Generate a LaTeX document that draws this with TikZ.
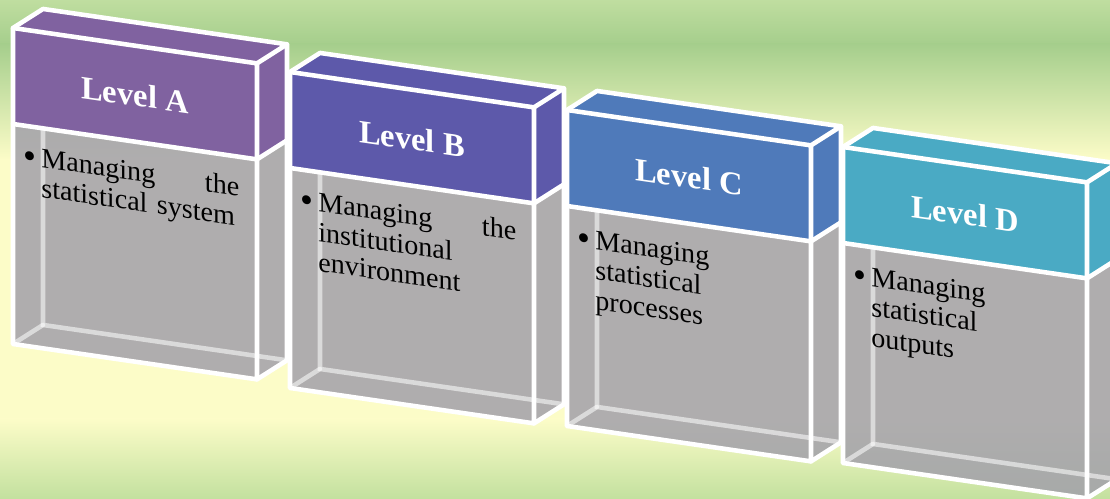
\documentclass[tikz,border=0pt]{standalone}
\usepackage{fontspec}
\setmainfont{Liberation Serif}

\definecolor{lvlA}{RGB}{128,98,160}
\definecolor{lvlB}{RGB}{93,89,170}
\definecolor{lvlC}{RGB}{79,122,186}
\definecolor{lvlD}{RGB}{74,170,196}
\definecolor{glassgrey}{RGB}{162,160,170}
\definecolor{bgTop}{RGB}{192,222,160}
\definecolor{bgGreen}{RGB}{165,206,140}
\definecolor{bgPale}{RGB}{252,252,200}
\definecolor{bgLow}{RGB}{194,224,158}

\begin{document}
\begin{tikzpicture}[
    x=0.02cm, y=-0.02cm,
    rim/.style={draw=white, line width=2.6pt, line join=round, line cap=round},
    backrim/.style={draw=white, draw opacity=0.55, line width=2.6pt, line cap=round},
    glass/.style={fill=glassgrey, fill opacity=0.85},
    lvltitle/.style={text=white, inner sep=0pt, transform shape,
        font=\fontsize{18.5}{20}\selectfont\bfseries},
    lvltext/.style={anchor=north west, inner sep=0pt, transform shape,
        text width=3.96cm, align=left, font=\fontsize{16}{17}\selectfont},
    dot/.style={anchor=base west, inner sep=0pt, transform shape,
        font=\fontsize{21}{21}\selectfont}
]
    \useasboundingbox (0,0) rectangle (1110,499);
    \clip (0,0) rectangle (1110,499);

    % meadow background
    \fill[top color=bgTop, bottom color=bgGreen] (0,-1) rectangle (1110,45);
    \fill[top color=bgGreen, bottom color=bgPale] (0,44) rectangle (1110,160);
    \fill[bgPale] (0,159) rectangle (1110,420);
    \fill[top color=bgPale, bottom color=bgLow] (0,419) rectangle (1110,500);

    % one glass box per level
    \foreach \px/\py/\col/\lvl/\txt in {
        13/28/lvlA/A/{Managing\hfill the\\statistical system},
        290/72/lvlB/B/{Managing\hfill the\\institutional\\environment},
        567/110/lvlC/C/{Managing\\statistical\\processes},
        843/147/lvlD/D/{Managing\\statistical\\outputs}} {
      \begin{scope}[shift={(\px,\py)}, yslant=-0.145]
        % body
        \fill[glass] (0,96) -- (244,96) -- (244,316) -- (0,316) -- cycle;
        \fill[glass] (244,96) -- (274,72.6) -- (274,292.6) -- (244,316) -- cycle;
        % back edges through the glass
        \draw[backrim] (30,72.6) -- (30,292.6) -- (274,292.6);
        \draw[backrim] (0,316) -- (30,292.6);
        % lid
        \fill[\col] (0,0) -- (244,0) -- (244,96) -- (0,96) -- cycle;
        \fill[\col] (0,0) -- (30,-23.4) -- (274,-23.4) -- (274,72.6)
            -- (244,96) -- (244,0) -- cycle;
        % frame
        \draw[rim] (0,0) -- (244,0) -- (244,316) -- (0,316) -- cycle;
        \draw[rim] (0,96) -- (244,96) -- (274,72.6);
        \draw[rim] (0,0) -- (30,-23.4) -- (274,-23.4) -- (244,0);
        \draw[rim] (274,-23.4) -- (274,292.6) -- (244,316);

        \node[lvltitle] (lvl\lvl) at (122,49) {Level \lvl};
        \node[dot] (dot\lvl) at (10,138) {\textbullet};
        \node[lvltext] (txt\lvl) at (28,114) {\strut\txt};
      \end{scope}
    }
\end{tikzpicture}
\end{document}
